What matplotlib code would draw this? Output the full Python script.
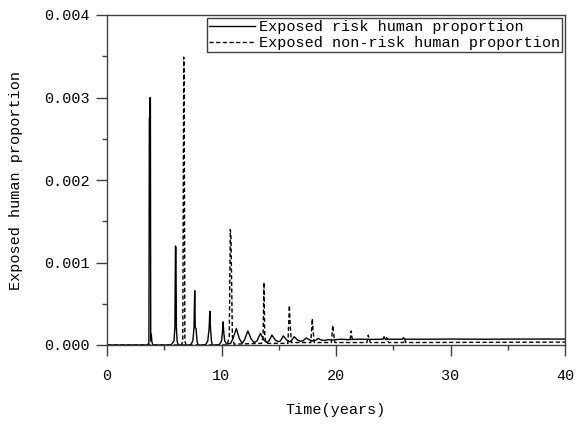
import numpy as np
import matplotlib
matplotlib.use("Agg")
import matplotlib.pyplot as plt
from matplotlib.ticker import MultipleLocator, FormatStrFormatter

# values (time in years, proportion in units of 1e-3)
risk_t = [0, 3.5, 3.66, 3.70, 3.74, 3.76, 3.79, 3.82, 3.87, 3.92, 4.0,
          5.6, 5.85, 5.93, 5.98, 6.02, 6.06, 6.12, 6.2, 6.3,
          7.3, 7.5, 7.6, 7.66, 7.71, 7.78, 7.86, 7.95,
          8.6, 8.8, 8.92, 8.98, 9.04, 9.12, 9.2,
          9.8, 10.0, 10.08, 10.14, 10.2, 10.28, 10.45,
          10.8, 11.0, 11.3, 11.55, 11.8, 12.0, 12.3, 12.6, 12.85,
          13.1, 13.4, 13.7, 13.95, 14.15, 14.4, 14.7, 14.95,
          15.15, 15.4, 15.7, 15.95, 16.1, 16.35, 16.65, 16.9,
          17.1, 17.4, 17.7, 17.95, 18.2, 18.45, 18.7, 19.0, 19.3, 19.6,
          20.0, 20.5, 21.0, 22.0, 23.0, 24.1, 24.2, 24.3, 25.5, 25.8,
          25.9, 26.0, 28.0, 30.0, 33.0, 36.0, 40.0]
risk_v = [0, 0, 0.02, 2.75, 2.75, 3.0, 3.0, 0.05, 0.13, 0.04, 0,
          0, 0.05, 0.21, 1.2, 1.18, 0.21, 0.05, 0.01, 0,
          0, 0.05, 0.21, 0.66, 0.21, 0.2, 0.05, 0,
          0, 0.05, 0.2, 0.41, 0.2, 0.05, 0,
          0, 0.05, 0.15, 0.28, 0.15, 0.05, 0.01,
          0.02, 0.08, 0.2, 0.08, 0.02, 0.06, 0.17, 0.07, 0.03,
          0.05, 0.14, 0.06, 0.03, 0.05, 0.12, 0.06, 0.04,
          0.05, 0.11, 0.06, 0.04, 0.05, 0.1, 0.06, 0.045,
          0.05, 0.085, 0.06, 0.05, 0.055, 0.08, 0.06, 0.055, 0.065, 0.06,
          0.065, 0.07, 0.065, 0.07, 0.068, 0.07, 0.1, 0.07, 0.07, 0.07,
          0.09, 0.07, 0.07, 0.072, 0.07, 0.072, 0.072]

nonrisk_t = [0, 6.5, 6.62, 6.70, 6.74, 6.8, 6.9,
             10.5, 10.68, 10.77, 10.83, 10.95, 11.1,
             13.5, 13.63, 13.71, 13.78, 13.9,
             15.8, 15.93, 15.98, 16.1,
             17.8, 17.93, 17.98, 18.1,
             19.6, 19.72, 19.78, 19.9,
             21.2, 21.33, 21.38, 21.5,
             22.7, 22.82, 22.88, 23.0,
             24.3, 24.42, 24.48, 24.6,
             25.9, 26.0, 26.1, 40.0]
nonrisk_v = [0, 0, 0.05, 3.49, 3.3, 0.05, 0,
             0, 0.1, 1.40, 1.3, 0.1, 0.01,
             0.02, 0.1, 0.76, 0.1, 0.02,
             0.02, 0.48, 0.3, 0.03,
             0.03, 0.32, 0.2, 0.03,
             0.03, 0.24, 0.15, 0.03,
             0.03, 0.17, 0.1, 0.03,
             0.03, 0.12, 0.08, 0.03,
             0.03, 0.09, 0.06, 0.03,
             0.03, 0.07, 0.03, 0.035]

labels = ["Exposed risk human proportion", "Exposed non-risk human proportion"]

plt.rcParams['font.family'] = ['Liberation Mono', 'DejaVu Sans']
plt.rcParams['font.size'] = 10.9

fig = plt.figure(figsize=(5.77, 4.25), dpi=100)
ax = fig.add_axes([107 / 577, 1 - 345 / 425, 458 / 577, 330 / 425])

ax.plot(risk_t, np.array(risk_v) * 1e-3, color='black', lw=1.0,
        label=labels[0])
ax.plot(nonrisk_t, np.array(nonrisk_v) * 1e-3, color='black', lw=1.0,
        linestyle=(0, (3, 1.8)), label=labels[1])

ax.set_xlim(0, 40)
ax.set_ylim(0, 0.004)
ax.xaxis.set_major_locator(MultipleLocator(10))
ax.xaxis.set_minor_locator(MultipleLocator(5))
ax.yaxis.set_major_locator(MultipleLocator(0.001))
ax.yaxis.set_minor_locator(MultipleLocator(0.0005))
ax.yaxis.set_major_formatter(FormatStrFormatter('%.3f'))

ax.tick_params(which='major', direction='out', length=7.6, width=1,
               color='#404040')
ax.tick_params(which='minor', direction='out', length=3.6, width=1,
               color='#404040')
ax.tick_params(axis='x', which='major', pad=10)
ax.tick_params(axis='y', which='major', pad=5)
for s in ax.spines.values():
    s.set_color('#404040')
    s.set_linewidth(1)

ax.set_xlabel('Time(years)', labelpad=14)
ax.set_ylabel('Exposed human proportion', labelpad=15)

leg = ax.legend(loc='upper right', borderaxespad=0.2, borderpad=0.15,
                labelspacing=0.12, handlelength=3.0, handletextpad=0.25,
                fancybox=False, framealpha=1)
leg.get_frame().set_edgecolor('#404040')
leg.get_frame().set_linewidth(1)

fig.savefig('out.png', dpi=100)
